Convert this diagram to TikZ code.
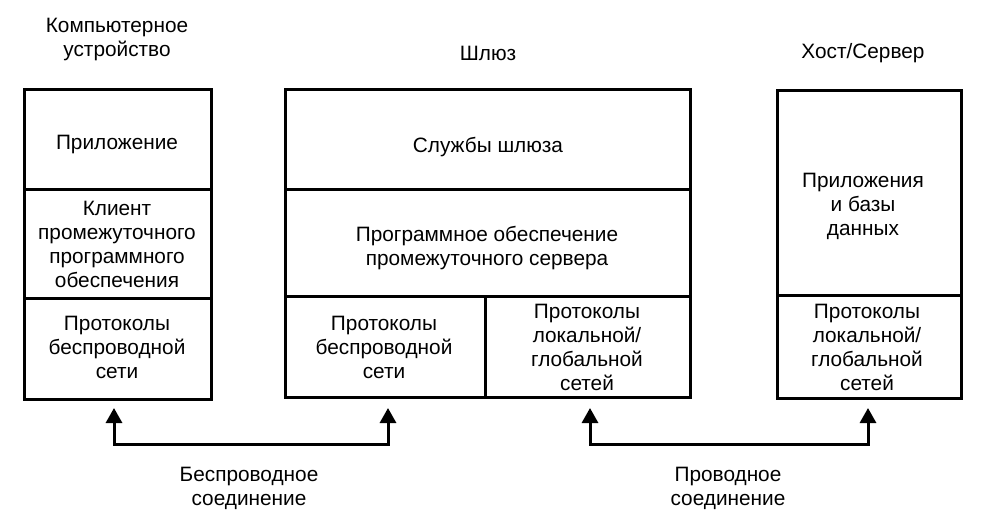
\documentclass[tikz,border=0pt]{standalone}
\usepackage{fontspec}
\setmainfont{Liberation Sans}
\usetikzlibrary{arrows.meta}
\begin{document}
\begin{tikzpicture}[x=1pt,y=-1pt,
  cell/.style={draw=black,line width=3pt,inner sep=0pt,anchor=north west},
  lbl/.style={align=center,inner sep=0pt,font=\fontsize{20.8}{24}\selectfont},
  conn/.style={line width=3pt,{Triangle[width=16pt,length=15pt]}-{Triangle[width=16pt,length=15pt]}}]
\useasboundingbox (0,0) rectangle (983,511);
% left column
\node[cell,minimum width=187pt,minimum height=100pt] (l1) at (23,88) {};
\node[cell,minimum width=187pt,minimum height=109pt] (l2) at (23,188) {};
\node[cell,minimum width=187pt,minimum height=101pt] (l3) at (23,297) {};
% middle column
\node[cell,minimum width=405pt,minimum height=100pt] (m1) at (284,88) {};
\node[cell,minimum width=405pt,minimum height=107pt] (m2) at (284,188) {};
\node[cell,minimum width=200pt,minimum height=101pt] (m3) at (284,295) {};
\node[cell,minimum width=205pt,minimum height=101pt] (m4) at (484,295) {};
% right column
\node[cell,minimum width=184pt,minimum height=205pt] (r1) at (776,89) {};
\node[cell,minimum width=184pt,minimum height=103pt] (r2) at (776,294) {};
% titles
\node[lbl] (tl) at (117,40) {Компьютерное\\устройство};
\node[lbl] (tm) at (488,53) {Шлюз};
\node[lbl] (tr) at (863,53) {Хост/Сервер};
% cell texts
\node[lbl] (xl1) at (117,145) {Приложение};
\node[lbl] (xl2) at (117,244) {Клиент\\промежуточного\\программного\\обеспечения};
\node[lbl] (xl3) at (117,347) {Протоколы\\беспроводной\\сети};
\node[lbl] (xm1) at (488,147) {Службы шлюза};
\node[lbl] (xm2) at (487,248) {Программное обеспечение\\промежуточного сервера};
\node[lbl] (xm3) at (384,347) {Протоколы\\беспроводной\\сети};
\node[lbl] (xm4) at (587,347) {Протоколы\\локальной/\\глобальной\\сетей};
\node[lbl] (xr1) at (863,206) {Приложения\\и базы\\данных};
\node[lbl] (xr2) at (867,347) {Протоколы\\локальной/\\глобальной\\сетей};
% connections
\coordinate (a1) at (114,408);
\coordinate (a2) at (388,408);
\coordinate (b1) at (590,408);
\coordinate (b2) at (868,408);
\draw[conn] (a1) -- ++(0,36) -| (a2);
\draw[conn] (b1) -- ++(0,36) -| (b2);
\node[lbl] (w1) at (249,488) {Беспроводное\\соединение};
\node[lbl] (w2) at (728,488) {Проводное\\соединение};
\end{tikzpicture}
\end{document}
